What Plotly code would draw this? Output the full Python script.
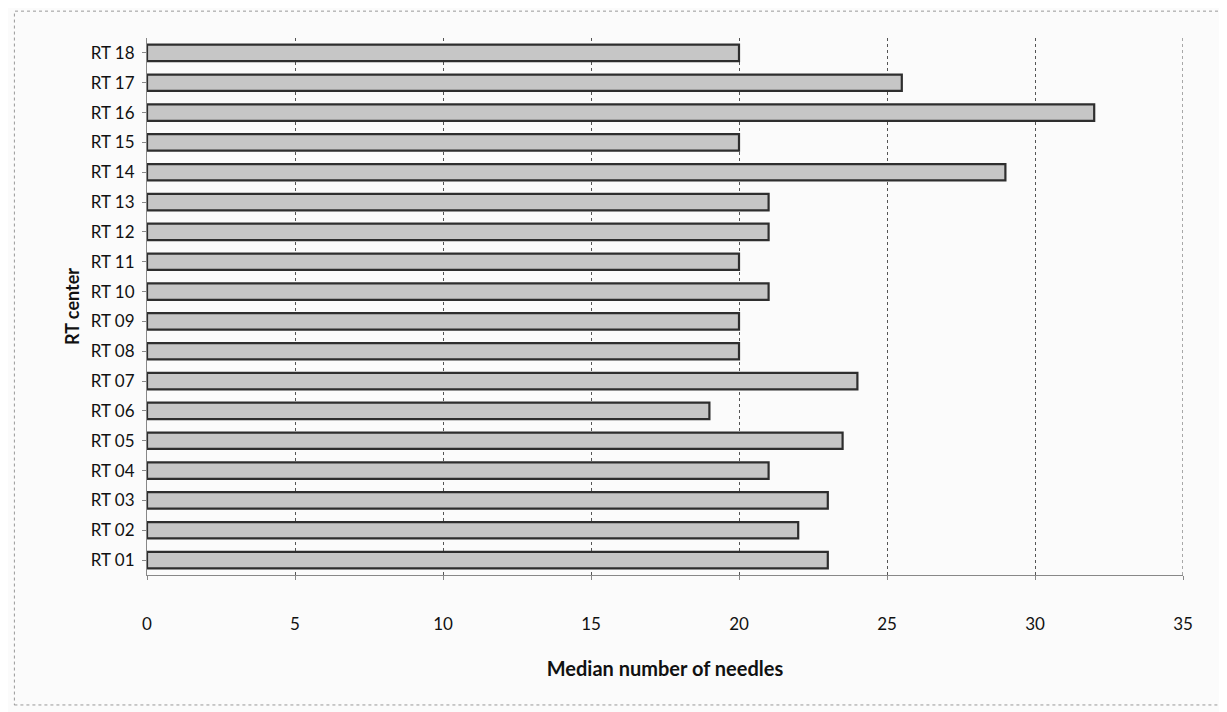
import plotly.graph_objects as go

centers = ["RT 01", "RT 02", "RT 03", "RT 04", "RT 05", "RT 06", "RT 07", "RT 08", "RT 09",
           "RT 10", "RT 11", "RT 12", "RT 13", "RT 14", "RT 15", "RT 16", "RT 17", "RT 18"]
median_needles = [23, 22, 23, 21, 23.5, 19, 24, 20, 20, 21, 20, 21, 21, 29, 20, 32, 25.5, 20]
x_ticks = [0, 5, 10, 15, 20, 25, 30, 35]

font_family = "Lato, 'Open Sans', sans-serif"

fig = go.Figure(go.Bar(
    x=median_needles, y=centers, orientation="h",
    marker=dict(color="#c6c6c6", line=dict(color="#2e2e2e", width=2.2)),
    width=0.55,
))

fig.update_layout(
    width=1219, height=704,
    margin=dict(l=139, r=44, t=30, b=137),
    paper_bgcolor="#fbfbfb", plot_bgcolor="#fbfbfb",
    font=dict(family=font_family, size=17, color="#111"),
    showlegend=False,
    shapes=[dict(type="rect", xref="paper", yref="paper", x0=-0.128, x1=1.036, y0=-0.242, y1=1.05,
                 line=dict(color="#999", width=1, dash="dot"))],
)
fig.update_xaxes(
    range=[0, 35], tickvals=x_ticks, showgrid=True, gridcolor="#555", griddash="dot", gridwidth=1,
    showline=True, linecolor="#888", linewidth=1, mirror=False, zeroline=False,
    ticks="outside", ticklen=4, tickcolor="#888", ticklabelstandoff=30,
    tickfont=dict(size=17), automargin=False,
    title=dict(text="<b>Median number of needles</b>", font=dict(size=20), standoff=28),
)
fig.update_yaxes(
    categoryorder="array", categoryarray=centers,
    showline=True, linecolor="#888", linewidth=1, showgrid=False,
    ticks="outside", ticklen=4, tickcolor="#888", ticklabelstandoff=4,
    tickfont=dict(size=17), automargin=False,
    title=dict(text="<b>RT center</b>", font=dict(size=18), standoff=6),
)
fig.add_shape(type="line", xref="x", yref="paper", x0=35, x1=35, y0=0, y1=1,
              line=dict(color="#555", width=1, dash="dot"))

fig.write_html("out.html")
